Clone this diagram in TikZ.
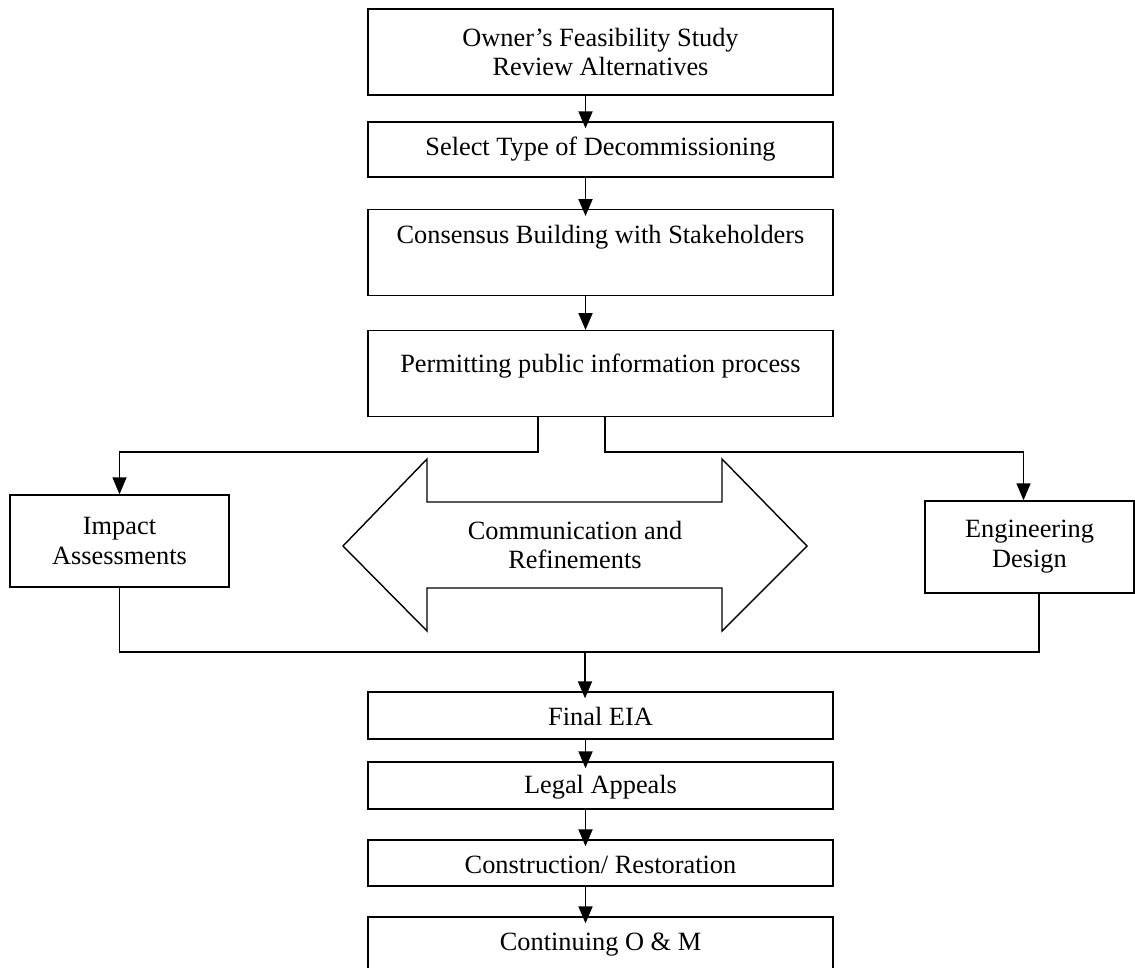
\documentclass[tikz,border=0pt]{standalone}
\usepackage{fontspec}
\setmainfont{Liberation Serif}
\usetikzlibrary{arrows.meta}

\begin{document}
\begin{tikzpicture}[>={Triangle[length=3.4mm,width=2.8mm]}, thick, x=0.02cm, y=-0.02cm,
  box/.style={draw, inner sep=0pt, align=center, font=\fontsize{15}{17}\selectfont},
  wide/.style={box, minimum width=9.3cm},
  topbox/.style={wide, anchor=north},
  link/.style={->, line width=1.1pt, shorten >=-0.14cm}]
\useasboundingbox (0,0) rectangle (1135,967);
% main column
\node[wide, minimum height=1.72cm](S1) at (600.5,52){Owner’s Feasibility Study\\Review Alternatives};
\node[wide, minimum height=1.1cm](S2) at (600.5,149.5){Select Type of Decommissioning};
\node[topbox, text height=0.68cm, text depth=1.04cm](S3) at (600.5,209){Consensus Building with Stakeholders};
\node[topbox, text height=0.84cm, text depth=0.88cm](S4) at (600.5,330){Permitting public information process};
% side boxes
\node[box, minimum width=4.38cm, minimum height=1.84cm](IA) at (119.5,541){Impact\\Assessments};
\node[box, minimum width=4.18cm, minimum height=1.84cm](ED) at (1029.5,547){Engineering\\Design};
\draw (343,546) -- (427,459) -- (427,502) -- (722,502) -- (722,459) -- (807,546)
  -- (722,631) -- (722,588) -- (427,588) -- (427,631) -- cycle;
\node[font=\fontsize{15}{17}\selectfont, align=center](CR) at (575,545){Communication and\\Refinements};
% lower column
\node[wide, minimum height=0.94cm, text height=0.42cm](S5) at (600.5,715.5){Final EIA};
\node[wide, minimum height=0.94cm, text height=0.42cm](S6) at (600.5,785.5){Legal Appeals};
\node[wide, minimum height=0.92cm, text height=0.42cm](S7) at (600.5,863){Construction/ Restoration};
\node[wide, minimum height=1.12cm](S8) at (600.5,945){Continuing O \& M};

\draw[link]([xshift=-0.3cm]S1.south)--([xshift=-0.3cm]S2.north);
\draw[link]([xshift=-0.3cm]S2.south)--([xshift=-0.3cm]S3.north);
\draw[link, shorten >=0pt]([xshift=-0.3cm]S3.south)--([xshift=-0.3cm]S4.north);

\coordinate(L) at (538,452);
\coordinate(R) at (605,452);
\coordinate(M) at (585,652);
\draw[->](S4.south -| L)--(L) -| (IA.north);
\draw[->](S4.south -| R)--(R) -| ([xshift=-0.12cm]ED.north);
\draw(IA.south) |- (M) -| ([xshift=0.19cm]ED.south);
\draw[link](M)--(M |- S5.north);

\draw[link]([xshift=-0.3cm]S5.south)--([xshift=-0.3cm]S6.north);
\draw[link]([xshift=-0.3cm]S6.south)--([xshift=-0.3cm]S7.north);
\draw[link]([xshift=-0.3cm]S7.south)--([xshift=-0.3cm]S8.north);
\end{tikzpicture}
\end{document}
